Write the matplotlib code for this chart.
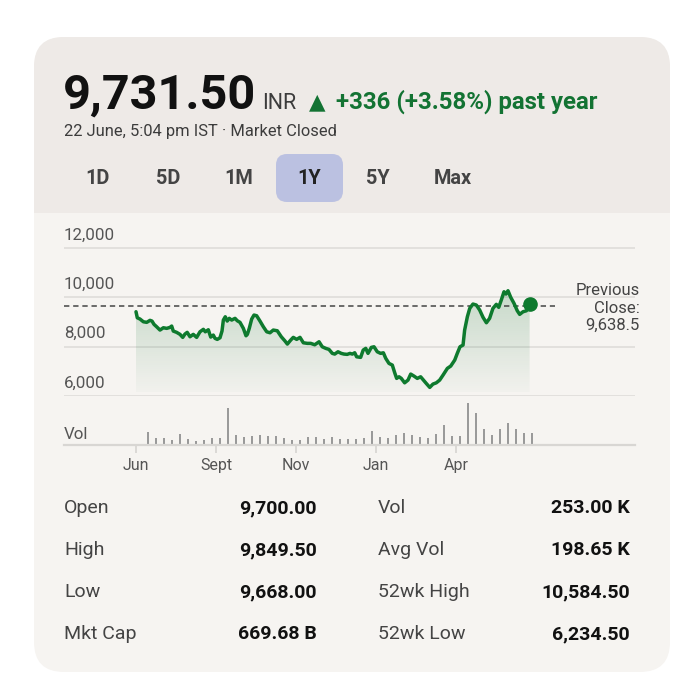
import matplotlib
matplotlib.use("Agg")
import matplotlib.pyplot as plt
import numpy as np
from matplotlib.patches import FancyBboxPatch, Rectangle, Polygon
from matplotlib.colors import to_rgb

plt.rcParams['font.family'] = ['Roboto', 'DejaVu Sans']

# ---------------- data ----------------
price_session = [0, 0.8, 2.5, 4.6, 6.7, 8.75, 10, 11.25, 12.9, 15, 17.1, 19.2, 21.25, 22.3, 23.3,
                 25.4, 27.5, 29.2, 30.6, 32, 33.75, 35.8, 37.9, 40, 42.1, 43.3, 45.2, 46.7, 48.3,
                 49.4, 50.8, 52.5, 53.75, 54.6, 55.8, 57, 58.3, 59.8, 61.9, 63.3, 65, 67.1, 68.75,
                 69.6, 70.8, 72.3, 73.75, 75.4, 77.5, 79.6, 81.7, 83.75, 85.8, 88.3, 90.8, 93, 94.6,
                 96.7, 98.3, 100.4, 102.5, 104.6, 107.1, 109.2, 111.7, 114.4, 116.4, 118.6, 120.6,
                 122.7, 124.2, 126.25, 128.3, 130, 132, 133.75, 135.2, 136.7, 137.9, 140.4, 142,
                 143.6, 145, 147.1, 148.75, 150.8, 152.9, 154.6, 156.1, 158.1, 160.2, 161.7, 162.9,
                 164.4, 165.8, 167.9, 170, 171.7, 173.75, 175.8, 177.9, 180, 181.4, 183.6, 185.6,
                 187.7, 189.8, 191.9, 194.6, 196.7, 199.2, 200.8, 202.5, 204.4, 205.4, 207.1, 208.6,
                 210.6, 212.7, 214.8, 216.9, 219, 221, 223.1, 225.2, 226.7, 228.3, 230, 231.25,
                 232.5, 234.2, 236.25, 238.3, 239.8, 241.9, 244, 246]
price_value = [9416, 9172, 9120, 9010, 8986, 9067, 9038, 8905, 8807, 8673, 8767, 8742, 8783, 8836, 8633,
               8580, 8499, 8377, 8511, 8580, 8402, 8499, 8377, 8604, 8702, 8604, 8686, 8389, 8470,
               8337, 8296, 8361, 8633, 9079, 9213, 9038, 9148, 9079, 9148, 9051, 8986, 8742, 8442,
               8499, 8742, 9120, 9282, 9254, 9038, 8807, 8604, 8564, 8673, 8645, 8402, 8239, 8105,
               8268, 8377, 8296, 8377, 8158, 8134, 8134, 8077, 8199, 7996, 7931, 7890,
               7728, 7700, 7793, 7728, 7700, 7688, 7728, 7700, 7752, 7590, 7566, 7862,
               7931, 7728, 7971, 7996, 7793, 7728, 7752, 7525, 7322, 7253, 6941, 6714,
               6779, 6714, 6535, 6645, 6888, 6807, 6714, 6779, 6616, 6511, 6349, 6483,
               6535, 6645, 6848, 7120, 7213, 7456, 7728, 7996, 8065, 8673, 9213, 9554,
               9728, 9688, 9485, 9189, 8970, 9148, 9554, 9716, 9594, 9890, 10227, 10134,
               10268, 10000, 9757, 9456, 9310, 9416, 9456, 9731.5]

# weekly volume (thousands of shares)
vol_values = [1950, 1050, 1050, 750, 1650, 950, 650, 750, 1050, 1050, 5550, 1550, 1250, 1350,
              1450, 1350, 1350, 1050, 750, 750, 1250, 1150, 950, 1150, 950, 950, 950, 1050,
              2050, 1150, 1050, 1550, 1850, 1450, 1250, 1050, 1650, 2950, 1350, 1350, 6250,
              4750, 2350, 1550, 2450, 3250, 2450, 1850, 1850]

tick_sessions = [0, 50, 100, 150, 200]
tick_labels = ['Jun', 'Sept', 'Nov', 'Jan', 'Apr']
y_ticks = [6000, 8000, 10000, 12000]
y_tick_labels = ['6,000', '8,000', '10,000', '12,000']
prev_close = 9638.5

period_buttons = ['1D', '5D', '1M', '1Y', '5Y', 'Max']
active_button = '1Y'

stats_left_labels = ['Open', 'High', 'Low', 'Mkt Cap']
stats_left_values = ['9,700.00', '9,849.50', '9,668.00', '669.68 B']
stats_right_labels = ['Vol', 'Avg Vol', '52wk High', '52wk Low']
stats_right_values = ['253.00 K', '198.65 K', '10,584.50', '6,234.50']

# ---------------- style ----------------
W, H = 685, 691
GREEN = '#137333'
LINE_GREEN = '#0e7a2e'
HEADER_BG = '#EEEAE7'
BODY_BG = '#F6F4F1'
GRID = '#dedcd9'

fig = plt.figure(figsize=(W / 100, H / 100), dpi=100)
fig.patch.set_facecolor('white')

bg = fig.add_axes([0, 0, 1, 1])
bg.set_xlim(0, W)
bg.set_ylim(H, 0)
bg.axis('off')

card = FancyBboxPatch((34, 37), 636, 635, boxstyle='round,pad=0,rounding_size=30',
                      facecolor=BODY_BG, edgecolor='none')
bg.add_patch(card)
hdr = Rectangle((30, 30), 650, 183, facecolor=HEADER_BG, edgecolor='none')
bg.add_patch(hdr)
hdr.set_clip_path(card)

# header text
bg.text(63, 109, '9,731.50', fontsize=35, fontweight='bold', color='#111111', va='baseline', ha='left')
bg.text(262, 109, 'INR', fontsize=15.5, color='#3c3c3c', va='baseline', ha='left')
bg.text(309, 108, '▲', fontsize=15.5, color=GREEN, va='baseline', ha='left', family=['DejaVu Sans'])
bg.text(336, 109, '+336 (+3.58%) past year', fontsize=17.3, fontweight='bold', color=GREEN,
        va='baseline', ha='left')
bg.text(64, 131, '22 June, 5:04 pm IST · Market Closed', fontsize=11.9, color='#3c3c3c',
        va='center', ha='left')

btn_x = [98, 168, 239, 309, 378, 453]
for lab, bx in zip(period_buttons, btn_x):
    if lab == active_button:
        bg.add_patch(FancyBboxPatch((276, 154), 67, 48, boxstyle='round,pad=0,rounding_size=11',
                                    facecolor='#BBC1E1', edgecolor='none'))
    bg.text(bx, 178, lab, fontsize=14.3, fontweight='bold',
            color='#444444' if lab != active_button else '#222222', va='center', ha='center')

# Previous close label
bg.text(640, 308, 'Previous\nClose:\n9,638.5', fontsize=12, color='#444444', ha='right',
        va='center', multialignment='right', linespacing=1.17)

# stats table
row_y = [508, 550, 592, 634]
for i, y in enumerate(row_y):
    bg.text(64, y, stats_left_labels[i], fontsize=14, color='#444444', va='center', ha='left')
    bg.text(317, y, stats_left_values[i], fontsize=14, fontweight='bold', color='#111111', va='center', ha='right')
    bg.text(378, y, stats_right_labels[i], fontsize=14, color='#444444', va='center', ha='left')
    bg.text(630, y, stats_right_values[i], fontsize=14, fontweight='bold', color='#111111', va='center', ha='right')

# ---------------- price chart ----------------
PX_PER_SESSION = 1.6
X0_PX = 136
left_px, right_px = 64, 635
xlim = ((left_px - X0_PX) / PX_PER_SESSION, (right_px - X0_PX) / PX_PER_SESSION)

top_px, bot_px = 228, 396
units_per_px = 2000 / 49.33
ylim = (6000, 6000 + (bot_px - top_px) * units_per_px)

ax = fig.add_axes([left_px / W, 1 - bot_px / H, (right_px - left_px) / W, (bot_px - top_px) / H])
ax.set_facecolor('none')
ax.set_xlim(*xlim)
ax.set_ylim(*ylim)
for s in ax.spines.values():
    s.set_visible(False)
ax.set_xticks([])
ax.set_yticks([])

for v, lab in zip(y_ticks, y_tick_labels):
    ax.axhline(v, color=GRID, lw=1.2, zorder=1)
    ax.annotate(lab, xy=(xlim[0], v), xytext=(0, 4), textcoords='offset points',
                ha='left', va='bottom', fontsize=12.2, color='#555555', annotation_clip=False)

xs = np.array(price_session)
ys = np.array(price_value)
fill_bottom = 6150
poly = Polygon(np.column_stack([np.r_[xs, xs[-1], xs[0]], np.r_[ys, fill_bottom, fill_bottom]]),
               closed=True, facecolor='none', edgecolor='none')
ax.add_patch(poly)
rgb = to_rgb(GREEN)
top_v = ys.max()
grad = np.zeros((256, 2, 4))
grad[..., 0], grad[..., 1], grad[..., 2] = rgb
grad[..., 3] = np.linspace(0.21, 0.02, 256)[:, None]
im = ax.imshow(grad, extent=[xs[0], xs[-1], fill_bottom, top_v], origin='upper',
               aspect='auto', zorder=2, interpolation='bilinear')
im.set_clip_path(poly)
ax.set_xlim(*xlim)
ax.set_ylim(*ylim)

ax.axhline(prev_close, xmin=0, xmax=(555 - left_px) / (right_px - left_px), color='#444444',
           lw=1.1, ls=(0, (3.5, 2.5)), zorder=3)
ax.plot(xs, ys, color=LINE_GREEN, lw=2.5, zorder=4, solid_joinstyle='round', solid_capstyle='round')
ax.plot(xs[-1], ys[-1], 'o', color=LINE_GREEN, ms=9.5, zorder=5)

# ---------------- volume chart ----------------
vol_top_px, vol_bot_px = 396, 445
axv = fig.add_axes([left_px / W, 1 - vol_bot_px / H, (right_px - left_px) / W, (vol_bot_px - vol_top_px) / H])
axv.set_facecolor('none')
weeks = np.arange(len(vol_values))
vol_x = 7.3 + 5 * weeks
axv.bar(vol_x, vol_values, width=1.3, color='#9a9a9a', zorder=2)
axv.set_xlim(*xlim)
axv.set_ylim(0, 49 * 150)
for k in ['top', 'left', 'right']:
    axv.spines[k].set_visible(False)
axv.spines['bottom'].set_color('#d8d6d3')
axv.spines['bottom'].set_linewidth(1.6)
axv.set_yticks([])
axv.set_xticks(tick_sessions)
axv.set_xticklabels(tick_labels, fontsize=11.5, color='#555555')
axv.tick_params(axis='x', direction='out', length=5.5, width=1.1, color='#d3d1ce', pad=4)
axv.annotate('Vol', xy=(xlim[0], 0), xytext=(0, 2), textcoords='offset points',
             ha='left', va='bottom', fontsize=12.2, color='#555555', annotation_clip=False)

fig.savefig('out.png', dpi=100, facecolor='white')
